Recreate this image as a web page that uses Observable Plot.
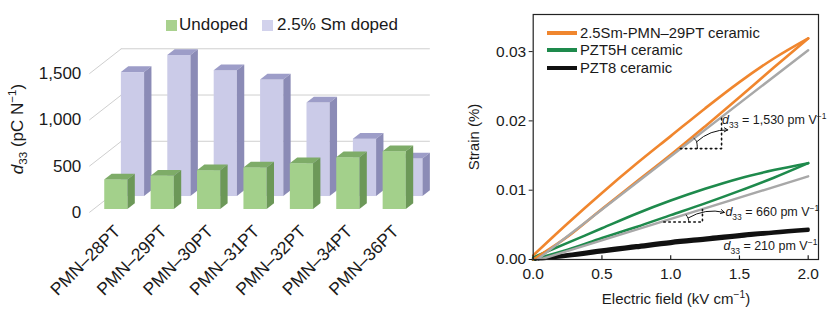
<!DOCTYPE html>
<html><head><meta charset="utf-8">
<script src="https://cdn.jsdelivr.net/npm/d3@7"></script>
<script src="https://cdn.jsdelivr.net/npm/@observablehq/plot@0.6"></script>
<style>
body{margin:0;background:#fff;font-family:"Liberation Sans",Arial,Helvetica,sans-serif;color:#1a1a1a;}
#wrap{position:relative;width:839px;height:322px;overflow:hidden;background:#fff;}
#left{position:absolute;left:0;top:0;}
#right{position:absolute;left:440px;top:0;}
.abs{position:absolute;white-space:nowrap;}
.sw{position:absolute;}
sub,sup{font-size:68%;line-height:0;}
</style></head><body>
<div id="wrap">
  <div id="left"></div>
  <div id="right"></div>
  <div class="sw" style="left:166px;top:20px;width:11px;height:11px;background:#a9d18e"></div>
  <div class="abs" style="left:179px;top:16px;font-size:17px;line-height:18px">Undoped</div>
  <div class="sw" style="left:262px;top:20px;width:11px;height:11px;background:#d2d2ec"></div>
  <div class="abs" style="left:277px;top:16px;font-size:17px;line-height:18px">2.5% Sm doped</div>
  <div class="abs" style="left:18px;top:129px;font-size:17px;transform:translate(-50%,-50%) rotate(-90deg)"><i>d</i><sub>33</sub> (pC N<sup>−1</sup>)</div>

  <div class="sw" style="left:547px;top:31px;width:30px;height:4px;background:#f0862e"></div>
  <div class="abs" style="left:580px;top:25px;font-size:14.8px;line-height:16px">2.5Sm-PMN–29PT ceramic</div>
  <div class="sw" style="left:547px;top:48px;width:30px;height:4px;background:#1e8a4c"></div>
  <div class="abs" style="left:580px;top:42px;font-size:14.8px;line-height:16px">PZT5H ceramic</div>
  <div class="sw" style="left:547px;top:66px;width:30px;height:4px;background:#111"></div>
  <div class="abs" style="left:580px;top:60px;font-size:14.8px;line-height:16px">PZT8 ceramic</div>
  <div class="abs" style="left:473px;top:137px;font-size:15px;transform:translate(-50%,-50%) rotate(-90deg)">Strain (%)</div>
  <div class="abs" style="left:676px;top:298px;font-size:15px;transform:translate(-50%,-50%)">Electric field (kV cm<sup>−1</sup>)</div>
</div>
<script>
// ---------- Left panel data ----------
const categories = ["PMN–28PT", "PMN–29PT", "PMN–30PT", "PMN–31PT", "PMN–32PT", "PMN–34PT", "PMN–36PT"];
const undoped = [320, 360, 420, 450, 495, 560, 625];
const smDoped = [1340, 1525, 1360, 1260, 1010, 620, 405];
const d33Ticks = [0, 500, 1000, 1500];

// ---------- Right panel data ----------
const field = [0, 0.25, 0.5, 0.75, 1.0, 1.25, 1.5, 1.75, 2.0];
const smUpper = [0.0006, 0.0052, 0.0096, 0.0138, 0.0178, 0.0218, 0.0256, 0.0290, 0.0319];
const smLower = [0.0, 0.0033, 0.0073, 0.0112, 0.0151, 0.0192, 0.0234, 0.0277, 0.0319];
const pzt5hUpper = [0.0003, 0.0024, 0.0045, 0.0066, 0.0085, 0.0102, 0.0117, 0.0129, 0.0139];
const pzt5hLower = [0.0, 0.0014, 0.0031, 0.0047, 0.0064, 0.0081, 0.0099, 0.0118, 0.0139];
const pzt8Upper = [0.0, 0.0007, 0.0014, 0.0020, 0.0026, 0.0031, 0.0036, 0.0040, 0.0044];
const pzt8Lower = [0.0, 0.0005, 0.0011, 0.0017, 0.0023, 0.0028, 0.0033, 0.0038, 0.0042];
const smFitX = [0.03, 2.0], smFitY = [0.0, 0.0302];
const pzt5hFitX = [0.05, 2.0], pzt5hFitY = [0.0, 0.0120];
const fieldTicks = [0, 0.5, 1.0, 1.5, 2.0];
const strainTicks = [0, 0.01, 0.02, 0.03];
const annotations = [
  {x: 1.374, y: 0.0201, value: "1,530"},
  {x: 1.398, y: 0.0068, value: "660"},
  {x: 1.384, y: 0.0019, value: "210"}
];
const dotted1 = [[1.07, 0.0160], [1.37, 0.0160], [1.37, 0.0205]];
const dotted2 = [[0.95, 0.0054], [1.231, 0.0054], [1.231, 0.0072]];
const arc1 = [[1.194, 0.0160], [1.188, 0.0170], [1.169, 0.01747]];
const arc2 = [[1.132, 0.0054], [1.127, 0.00592], [1.113, 0.00643]];
const arrows = [
  {x1: 1.19, y1: 0.0170, x2: 1.415, y2: 0.0187},
  {x1: 1.128, y1: 0.0060, x2: 1.39, y2: 0.0068}
];

const FONT = '"Liberation Sans", Arial, Helvetica, sans-serif';

// ---------- Left: pseudo-3D column chart ----------
const DEPTH = {x: 0.69, y: 270};     // data-unit shift for the full floor depth
const ROW = {undoped: 0.12, sm: 0.64};
const BAR_DEPTH = 0.23, BAR_HALF = 0.25;
const X_LEFT = -0.5, X_RIGHT = 6.85;

function faces(values, depth, key) {
  const ox = DEPTH.x * depth, oy = DEPTH.y * depth;
  const bx = DEPTH.x * BAR_DEPTH, by = DEPTH.y * BAR_DEPTH;
  const front = values.map((v, i) => ({x1: i - BAR_HALF + ox, x2: i + BAR_HALF + ox, y1: oy, y2: oy + v}));
  const top = values.flatMap((v, i) => [
    {id: key + i, y: oy + v, x1: i - BAR_HALF + ox, x2: i + BAR_HALF + ox},
    {id: key + i, y: oy + v + by, x1: i - BAR_HALF + ox + bx, x2: i + BAR_HALF + ox + bx}]);
  const side = values.flatMap((v, i) => [
    {id: key + i, x: i + BAR_HALF + ox, y1: oy, y2: oy + v},
    {id: key + i, x: i + BAR_HALF + ox + bx, y1: oy + by, y2: oy + v + by}]);
  return {front, top, side};
}
function barMarks(f, c) {
  return [
    Plot.rect(f.front, {x1: "x1", x2: "x2", y1: "y1", y2: "y2", fill: c.front}),
    Plot.areaX(f.top, {y: "y", x1: "x1", x2: "x2", z: "id", fill: c.top}),
    Plot.areaY(f.side, {x: "x", y1: "y1", y2: "y2", z: "id", fill: c.side})
  ];
}
const smF = faces(smDoped, ROW.sm, "s");
const unF = faces(undoped, ROW.undoped, "u");
const backGrid = d33Ticks.slice(1).map(v => ({y: v + DEPTH.y, x1: X_LEFT + DEPTH.x, x2: X_RIGHT}));
const floorDiag = d33Ticks.map(v => ({x1: X_LEFT, y1: v, x2: X_LEFT + DEPTH.x, y2: v + DEPTH.y}));
const catLabels = categories.map((c, i) => ({x: i, y: 0, label: c}));

const left = Plot.plot({
  width: 430, height: 322,
  marginLeft: 88.8, marginRight: 16.4, marginTop: 27, marginBottom: 110,
  x: {domain: [-0.5, 6.5], axis: null},
  y: {domain: [0, 2000], axis: null},
  style: {fontFamily: FONT, fontSize: "17px", color: "#1a1a1a", background: "transparent", overflow: "visible"},
  marks: [
    Plot.ruleY(backGrid, {y: "y", x1: "x1", x2: "x2", stroke: "#cfcfcf", strokeWidth: 1}),
    Plot.link(floorDiag, {x1: "x1", y1: "y1", x2: "x2", y2: "y2", stroke: "#cfcfcf", strokeWidth: 1}),
    ...barMarks(smF, {front: "#cbcbe8", top: "#9d9dc8", side: "#8b8bb6"}),
    ...barMarks(unF, {front: "#a3d08b", top: "#7eac68", side: "#6c9858"}),
    Plot.axisY(d33Ticks, {tickSize: 0, tickPadding: 8, tickFormat: d3.format(",.0f"), label: null, fontSize: 17}),
    Plot.text(catLabels, {x: "x", y: "y", text: "label", rotate: -45, textAnchor: "end", dx: 5, dy: 16, fontSize: 17.5})
  ]
});
document.getElementById("left").appendChild(left);

// ---------- Right: strain loops ----------
const pts = (xs, ys) => xs.map((x, i) => ({x, y: ys[i]}));
const tickMarks = fieldTicks.map(x => ({x, y1: 0, y2: 0.0006}));
const right = Plot.plot({
  width: 399, height: 322,
  marginLeft: 92.7, marginRight: 21, marginTop: 14, marginBottom: 63,
  x: {domain: [0, 2.075], axis: null},
  y: {domain: [0, 0.03535], axis: null},
  style: {fontFamily: FONT, fontSize: "14.5px", color: "#1a1a1a", background: "transparent", overflow: "visible"},
  marks: [
    Plot.line(pts(field, pzt8Upper), {x: "x", y: "y", stroke: "#111", strokeWidth: 3.2, curve: "catmull-rom"}),
    Plot.line(pts(field, pzt8Lower), {x: "x", y: "y", stroke: "#111", strokeWidth: 3.2, curve: "catmull-rom"}),
    Plot.line(pts(field, pzt5hUpper), {x: "x", y: "y", stroke: "#1e8a4c", strokeWidth: 2.6, curve: "catmull-rom"}),
    Plot.line(pts(field, pzt5hLower), {x: "x", y: "y", stroke: "#1e8a4c", strokeWidth: 2.6, curve: "catmull-rom"}),
    Plot.line(pts(field, smUpper), {x: "x", y: "y", stroke: "#f0862e", strokeWidth: 2.6, curve: "catmull-rom"}),
    Plot.line(pts(field, smLower), {x: "x", y: "y", stroke: "#f0862e", strokeWidth: 2.6, curve: "catmull-rom"}),
    Plot.line(pts(smFitX, smFitY), {x: "x", y: "y", stroke: "#a8a8a8", strokeWidth: 2.4}),
    Plot.line(pts(pzt5hFitX, pzt5hFitY), {x: "x", y: "y", stroke: "#a8a8a8", strokeWidth: 2.4}),
    Plot.line(dotted1, {stroke: "#111", strokeWidth: 1.6, strokeDasharray: "1.5,3.5"}),
    Plot.line(dotted2, {stroke: "#111", strokeWidth: 1.6, strokeDasharray: "1.5,3.5"}),
    Plot.line(arc1, {stroke: "#111", strokeWidth: 1, curve: "natural"}),
    Plot.line(arc2, {stroke: "#111", strokeWidth: 1, curve: "natural"}),
    Plot.arrow(arrows, {x1: "x1", y1: "y1", x2: "x2", y2: "y2", bend: 22, stroke: "#111", strokeWidth: 1, headLength: 6}),
    Plot.text(annotations, {x: "x", y: "y", text: d => "d33 = " + d.value + " pm V−1", textAnchor: "start", fontSize: 12.5}),
    Plot.frame({stroke: "#222", strokeWidth: 1.2}),
    Plot.link(tickMarks, {x1: "x", x2: "x", y1: "y1", y2: "y2", stroke: "#222", strokeWidth: 1.2}),
    Plot.axisX(fieldTicks, {tickSize: 0, tickPadding: 8, tickFormat: ".1f", label: null, fontSize: 15.5}),
    Plot.axisY(strainTicks, {tickSize: 4, tickPadding: 3, tickFormat: ".2f", label: null, fontSize: 15.5, stroke: "#222"})
  ]
});
document.getElementById("right").appendChild(right);

// subscript / superscript formatting for the d33 annotations
right.querySelectorAll("text").forEach(t => {
  const s = t.textContent;
  const m = /^d33 = (.+) pm V−1$/.exec(s);
  if (!m) return;
  const ns = "http://www.w3.org/2000/svg";
  t.textContent = "";
  const parts = [
    {txt: "d", attrs: {"font-style": "italic"}},
    {txt: "33", attrs: {"font-size": "8.5", dy: "3.5"}},
    {txt: " = " + m[1] + " pm V", attrs: {dy: "-3.5"}},
    {txt: "−1", attrs: {"font-size": "8.5", dy: "-5"}}
  ];
  parts.forEach(p => {
    const ts = document.createElementNS(ns, "tspan");
    for (const k in p.attrs) ts.setAttribute(k, p.attrs[k]);
    ts.textContent = p.txt;
    t.appendChild(ts);
  });
});
</script>
</body></html>
